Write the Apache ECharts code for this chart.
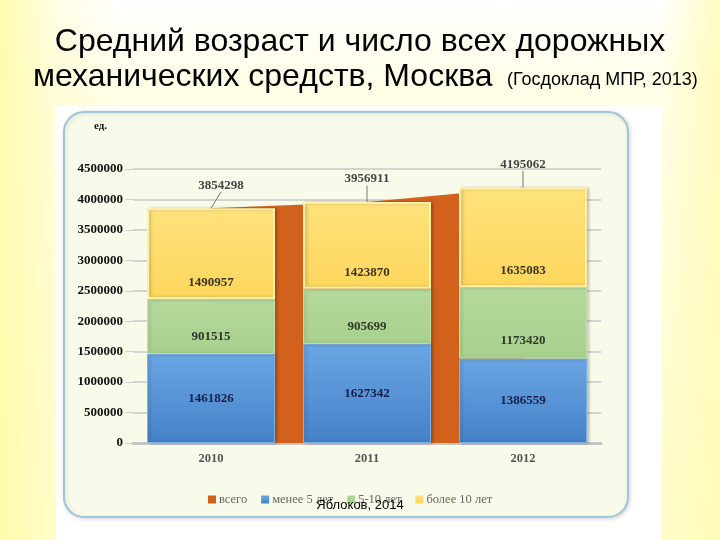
<!DOCTYPE html>
<html>
<head>
<meta charset="utf-8">
<script src="https://cdn.jsdelivr.net/npm/echarts@6/dist/echarts.min.js"></script>
<style>
  html, body { margin: 0; padding: 0; }
  body {
    width: 720px; height: 540px; overflow: hidden;
    background:
      linear-gradient(to right, rgba(255,251,170,0.9) 0px, rgba(255,252,200,0.5) 55px, rgba(255,255,255,0) 120px),
      linear-gradient(to left, rgba(255,251,180,0.8) 0px, rgba(255,255,255,0) 60px),
      linear-gradient(to bottom, #ffffff 0%, #fffee8 15%, #fffcc8 100%);
  }
  #main { width: 720px; height: 540px; }
</style>
</head>
<body>
<div id="main"></div>
<script>
// данные
const years = ['2010', '2011', '2012'];
const less5 = [1461826, 1627342, 1386559];
const from5to10 = [901515, 905699, 1173420];
const over10 = [1490957, 1423870, 1635083];
const total = [3854298, 3956911, 4195062];
const legendNames = ['всего', 'менее 5 лет', '5-10 лет', 'более 10 лет'];

const serif = '"Liberation Serif", "DejaVu Serif", serif';
const sans = '"Liberation Sans", Arial, sans-serif';

function grad(top, bottom) {
  return new echarts.graphic.LinearGradient(0, 0, 0, 1, [
    { offset: 0, color: top },
    { offset: 1, color: bottom }
  ]);
}

const myChart = echarts.init(document.getElementById('main'));

const barLabel = {
  show: true,
  fontFamily: serif,
  fontWeight: 'bold',
  fontSize: 13,
  color: '#333'
};

const option = {
  animation: false,
  backgroundColor: 'transparent',
  graphic: [
    // белая подложка слайда
    { type: 'rect', z: -20, shape: { x: 55, y: 106, width: 607, height: 440 }, style: { fill: '#ffffff' } },
    // панель диаграммы
    {
      type: 'rect', z: -10,
      shape: { x: 64, y: 112, width: 564, height: 405, r: 20 },
      style: {
        fill: '#f8fbea', stroke: '#9fc6d6', lineWidth: 2,
        shadowColor: 'rgba(0,0,0,0.15)', shadowBlur: 4, shadowOffsetX: 1, shadowOffsetY: 1
      }
    },
    {
      type: 'text', left: 'center', top: 26,
      style: { text: 'Средний возраст и число всех дорожных', font: '32px ' + sans, fill: '#000' }
    },
    {
      type: 'text', left: 33, top: 61,
      style: { text: 'механических средств, Москва', font: '32px ' + sans, fill: '#000' }
    },
    {
      type: 'text', left: 507, top: 71,
      style: { text: '(Госдоклад МПР, 2013)', font: '18px ' + sans, fill: '#000' }
    },
    {
      type: 'text', left: 94, top: 121,
      style: { text: 'ед.', font: 'bold 11px ' + serif, fill: '#111' }
    },
    {
      type: 'text', z: 100, left: 'center', top: 499,
      style: { text: 'Яблоков, 2014', font: '13px ' + sans, fill: '#000' }
    }
  ],
  legend: {
    data: legendNames,
    left: 203,
    top: 488,
    itemWidth: 8,
    itemHeight: 8,
    itemGap: 14,
    icon: 'rect',
    itemStyle: { borderWidth: 0 },
    textStyle: { fontFamily: serif, fontSize: 12.5, color: '#666', padding: [0, 0, 0, -2] }
  },
  grid: { left: 133, right: 119, top: 169, bottom: 97 },
  xAxis: {
    type: 'category',
    data: years,
    boundaryGap: true,
    axisLine: { lineStyle: { color: '#c4c4c4', width: 3 } },
    axisTick: { show: false },
    axisLabel: { margin: 9, fontFamily: serif, fontWeight: 'bold', fontSize: 12.5, color: '#555' }
  },
  yAxis: {
    type: 'value',
    min: 0,
    max: 4500000,
    interval: 500000,
    axisLine: { show: false },
    axisTick: { show: true, length: 8, lineStyle: { color: '#d0d0d0' } },
    splitLine: { lineStyle: { color: '#c8c8c8', width: 1.5 } },
    axisLabel: {
      margin: 10, fontFamily: serif, fontWeight: 'bold', fontSize: 13, color: '#111',
      formatter: function (v) { return String(v); }
    }
  },
  series: [
    {
      name: 'всего',
      type: 'line',
      data: total,
      z: 1,
      symbol: 'circle',
      symbolSize: 1,
      showSymbol: true,
      color: '#d2621b',
      lineStyle: { width: 0 },
      areaStyle: { color: '#d2621b', opacity: 1 },
      label: {
        show: true, position: 'top', distance: 4,
        fontFamily: serif, fontWeight: 'bold', fontSize: 13, color: '#444'
      },
      labelLayout: function (params) {
        return { dx: params.dataIndex === 0 ? 10 : 0, dy: -12, hideOverlap: false };
      },
      labelLine: { show: true, lineStyle: { color: '#777', width: 1 } }
    },
    {
      name: 'менее 5 лет',
      type: 'bar',
      stack: 'age',
      z: 3,
      barWidth: 128,
      data: less5,
      color: '#5b9bd5',
      itemStyle: {
        color: grad('#6aa6e3', '#4581c8'),
        borderColor: '#7cb2e8', borderWidth: 1,
        shadowColor: 'rgba(0,0,0,0.25)', shadowBlur: 3, shadowOffsetX: 2
      },
      label: Object.assign({}, barLabel, { position: 'inside', color: '#15204a' })
    },
    {
      name: '5-10 лет',
      type: 'bar',
      stack: 'age',
      z: 3,
      data: from5to10,
      color: '#a9d18e',
      itemStyle: {
        color: grad('#b4d99c', '#a8d08d'),
        borderColor: '#c2e1ad', borderWidth: 1,
        shadowColor: 'rgba(0,0,0,0.2)', shadowBlur: 3, shadowOffsetX: 2
      },
      label: Object.assign({}, barLabel, { position: 'insideBottom', distance: 11, color: '#2f3a2a' })
    },
    {
      name: 'более 10 лет',
      type: 'bar',
      stack: 'age',
      z: 3,
      data: over10,
      color: '#ffd966',
      itemStyle: {
        color: grad('#ffe27c', '#fdd65c'),
        borderColor: '#fff0a8', borderWidth: 2,
        shadowColor: 'rgba(0,0,0,0.2)', shadowBlur: 3, shadowOffsetX: 2
      },
      label: Object.assign({}, barLabel, { position: 'insideBottom', distance: 10, color: '#3a3520' })
    }
  ]
};

myChart.setOption(option);
</script>
</body>
</html>
